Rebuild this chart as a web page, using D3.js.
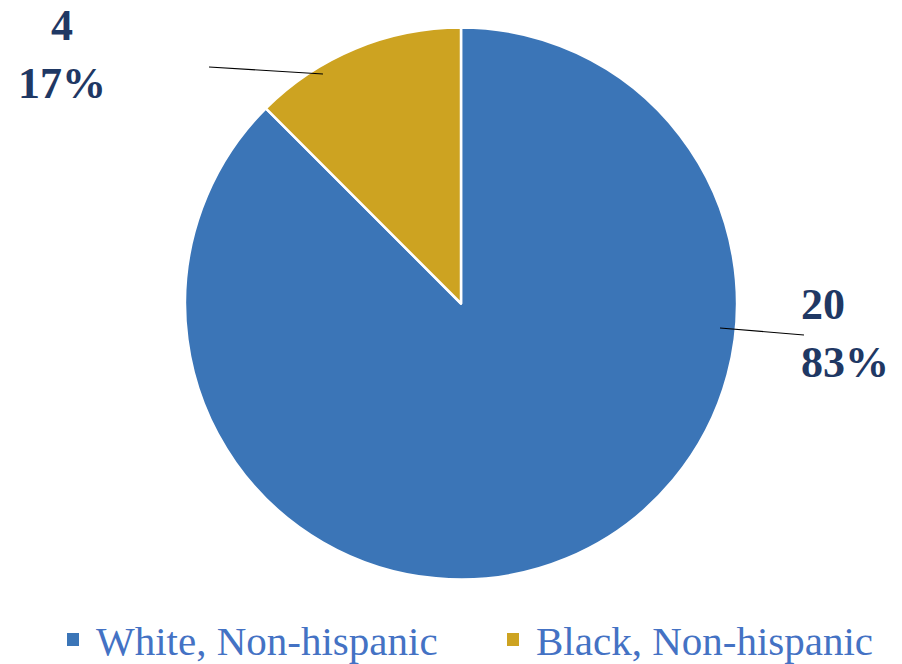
<!DOCTYPE html>
<html>
<head>
    <script src="https://d3js.org/d3.v7.min.js"></script>
    <style>
        body { margin: 0; background: #fff; }
        svg { display: block; }
    </style>
</head>
<body>
<div id="chart"></div>
<script>
    // chart data
    const categories = ['White, Non-hispanic', 'Black, Non-hispanic'];
    const counts = [20, 4];
    const percentLabels = ['83%', '17%'];
    // slice share as drawn in the picture (the black slice spans ~45 degrees)
    const drawnShare = [87.5, 12.5];
    const colors = ['#3b75b7', '#cda321'];

    const width = 902, height = 664;
    const cx = 461, cy = 303.5, radius = 276;
    const serif = 'Liberation Serif';

    const svg = d3.select('#chart').append('svg')
        .attr('width', width)
        .attr('height', height);

    const slices = categories.map((c, i) => ({
        name: c, count: counts[i], pct: percentLabels[i], share: drawnShare[i], color: colors[i]
    }));

    const pie = d3.pie().sort(null).value(d => d.share);
    const arc = d3.arc().innerRadius(0).outerRadius(radius);

    const g = svg.append('g').attr('transform', `translate(${cx},${cy})`);
    g.selectAll('path')
        .data(pie(slices))
        .join('path')
        .attr('d', arc)
        .attr('fill', d => d.data.color)
        .attr('stroke', '#fff')
        .attr('stroke-width', 2.5)
        .attr('stroke-linejoin', 'round');

    // leader lines and labels (layout only)
    const labelLayout = [
        { line: [[720, 328], [804, 335]], x: 801, y1: 319, y2: 377, anchor: 'start' },
        { line: [[323, 74], [209, 67]], x: 62, y1: 40, y2: 98, anchor: 'middle' }
    ];

    function dataLabel(x, y, anchor, txt) {
        svg.append('text')
            .attr('x', x).attr('y', y)
            .attr('text-anchor', anchor)
            .attr('font-family', serif)
            .attr('font-weight', 'bold')
            .attr('font-size', 44)
            .attr('fill', '#1f3864')
            .text(txt);
    }

    slices.forEach((d, i) => {
        const L = labelLayout[i];
        svg.append('path')
            .attr('d', d3.line()(L.line))
            .attr('stroke', '#000')
            .attr('stroke-width', 1.2)
            .attr('fill', 'none');
        dataLabel(L.x, L.y1, L.anchor, d.count);
        dataLabel(L.x, L.y2, L.anchor, d.pct);
    });

    // legend
    const legendX = [67, 507];
    const legend = svg.selectAll('.legend')
        .data(slices)
        .join('g')
        .attr('class', 'legend')
        .attr('transform', (d, i) => `translate(${legendX[i]},655)`);
    legend.append('rect')
        .attr('x', 0).attr('y', -22)
        .attr('width', 12).attr('height', 13)
        .attr('fill', d => d.color);
    legend.append('text')
        .attr('x', 29).attr('y', 0)
        .attr('font-family', serif)
        .attr('font-size', 41)
        .attr('fill', '#4472c4')
        .text(d => d.name);
</script>
</body>
</html>
